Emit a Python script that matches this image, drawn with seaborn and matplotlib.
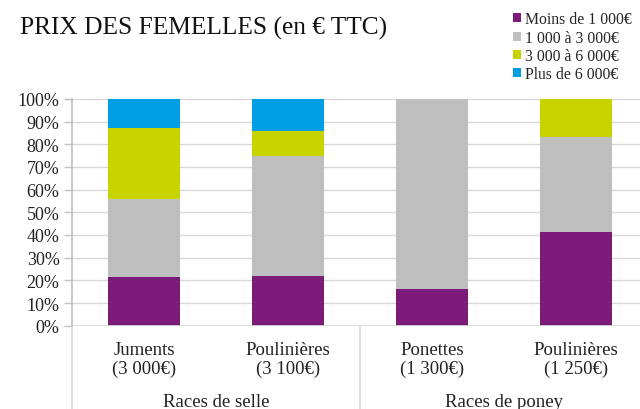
import matplotlib
matplotlib.use("Agg")
import matplotlib.pyplot as plt
import seaborn as sns
import numpy as np
import pandas as pd
from matplotlib.lines import Line2D
from matplotlib.patches import Patch
import matplotlib.transforms as mtransforms

categories = ["Juments\n(3 000€)", "Poulinières\n(3 100€)", "Ponettes\n(1 300€)", "Poulinières\n(1 250€)"]
groups = ["Races de selle", "Races de poney"]
series_names = ["Moins de 1 000€", "1 000 à 3 000€", "3 000 à 6 000€", "Plus de 6 000€"]
moins_1000 = [21.5, 21.8, 16.2, 41.3]
de_1000_a_3000 = [34.4, 52.9, 83.8, 41.9]
de_3000_a_6000 = [31.3, 11.2, 0.0, 16.8]
plus_6000 = [12.8, 14.1, 0.0, 0.0]
colors = ["#7B1C7A", "#BFBFBF", "#C8D400", "#009FE3"]

sns.set_theme(style="white")
plt.rcParams['font.family'] = ['Liberation Serif', 'DejaVu Serif']

fig = plt.figure(figsize=(6.4, 4.1), dpi=100)
ax = fig.add_axes([0.1125, 0.2032, 0.9, 0.553])

vals = np.array([moins_1000, de_1000_a_3000, de_3000_a_6000, plus_6000])
cum = np.cumsum(vals, axis=0)
df = pd.DataFrame({"cat": categories})
for i in range(len(series_names) - 1, -1, -1):
    df["v"] = cum[i]
    sns.barplot(data=df, x="cat", y="v", color=colors[i], width=0.495,
                saturation=1, ax=ax, linewidth=0, zorder=3)

ax.set_ylim(0, 100)
ax.set_xlim(-0.5, 3.5)
ax.set_yticks(np.arange(0, 101, 10))
ax.set_yticklabels([f"{v}%" for v in range(0, 101, 10)], fontsize=13, color="#222222")
ax.yaxis.grid(True, color="#D9D9D9", linewidth=1.0, zorder=0)
ax.xaxis.grid(False)
ax.set_xlabel("")
ax.set_ylabel("")
ax.tick_params(axis="y", left=True, length=6, width=1, color="#BFBFBF", pad=3)
ax.tick_params(axis="x", length=0, pad=11, labelsize=13.5, labelcolor="#222222")
for lbl in ax.get_xticklabels():
    lbl.set_linespacing(1.1)
for s in ["top", "right", "bottom"]:
    ax.spines[s].set_visible(False)
ax.spines["left"].set_color("#BFBFBF")
ax.spines["left"].set_linewidth(1.2)
ax.axhline(0, color="#D9D9D9", lw=1.2, zorder=4)

trans = mtransforms.blended_transform_factory(ax.transData, ax.transAxes)
for xs in [-0.5, 1.5, 3.5]:
    ax.add_line(Line2D([xs, xs], [0, -0.45], transform=trans, color="#D9D9D9",
                       lw=1.2, clip_on=False))
for gi, g in enumerate(groups):
    ax.text(0.5 + 2 * gi, -0.335, g, transform=trans, ha="center", va="center",
            fontsize=13.5, color="#222222")

fig.text(0.031, 0.93, "PRIX DES FEMELLES (en € TTC)", fontsize=18.3, color="#111111",
         ha="left", va="center")

handles = [Patch(facecolor=c, edgecolor="none") for c in colors]
fig.legend(handles, series_names, loc="upper right", bbox_to_anchor=(0.997, 0.985),
           frameon=False, fontsize=11.3, handlelength=0.5, handleheight=0.5,
           handletextpad=0.25, labelspacing=0.15, borderaxespad=0.2, borderpad=0.2)

fig.savefig("out.png", dpi=100)
